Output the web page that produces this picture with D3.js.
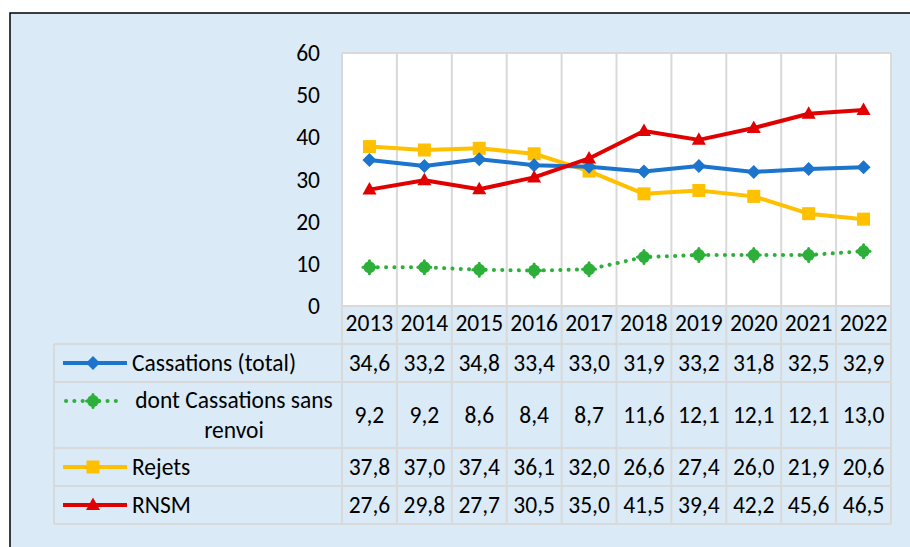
<!DOCTYPE html>
<html><head><meta charset="utf-8">
<script src="https://cdn.jsdelivr.net/npm/d3@7"></script>
<style>
html,body{margin:0;padding:0;background:#fff;}
svg{display:block;}
text{font-family:Carlito,Lato,"Open Sans",sans-serif;fill:#000;}
</style></head>
<body>
<script>
const years = ["2013","2014","2015","2016","2017","2018","2019","2020","2021","2022"];
const cassTotal = [34.6,33.2,34.8,33.4,33.0,31.9,33.2,31.8,32.5,32.9];
const cassSansRenvoi = [9.2,9.2,8.6,8.4,8.7,11.6,12.1,12.1,12.1,13.0];
const rejets = [37.8,37.0,37.4,36.1,32.0,26.6,27.4,26.0,21.9,20.6];
const rnsm = [27.6,29.8,27.7,30.5,35.0,41.5,39.4,42.2,45.6,46.5];
const yTicks = [0,10,20,30,40,50,60];
const seriesNames = ["Cassations (total)","dont Cassations sans renvoi","Rejets","RNSM"];

const W = 910, H = 547;
const svg = d3.select("body").append("svg").attr("width",W).attr("height",H);

const BG = "#DAEBF7", GRID = "#D9D9D9";
const FS = 23.5;
svg.append("rect").attr("x",10).attr("y",13).attr("width",W).attr("height",H)
  .attr("fill",BG).attr("stroke","#000").attr("stroke-width",1.5);

const plot = {l:342, r:891, t:53, b:306};
const x = d3.scaleBand().domain(years).range([plot.l, plot.r]);
const y = d3.scaleLinear().domain([0,60]).range([plot.b, plot.t]);
const fmt = d3.formatLocale({decimal:",",thousands:" ",grouping:[3],currency:["","€"]}).format(".1f");

svg.append("rect").attr("x",plot.l).attr("y",plot.t).attr("width",plot.r-plot.l).attr("height",plot.b-plot.t)
  .attr("fill","#fff");

const rows = [
  {top:344, bot:382},
  {top:382, bot:448},
  {top:448, bot:486},
  {top:486, bot:524}
];
const tbl = {l:54, r:891, headTop:306, bot:524};

const gridG = svg.append("g").attr("stroke",GRID).attr("stroke-width",2).attr("fill","none");
years.forEach((yr,i)=>{
  const xx = x(yr);
  if(i>0) gridG.append("line").attr("x1",xx).attr("x2",xx).attr("y1",plot.t).attr("y2",tbl.bot);
});
gridG.append("line").attr("x1",plot.l).attr("x2",plot.l).attr("y1",plot.t).attr("y2",tbl.bot);
gridG.append("line").attr("x1",plot.r).attr("x2",plot.r).attr("y1",plot.t).attr("y2",tbl.bot);
gridG.append("line").attr("x1",plot.l).attr("x2",plot.r).attr("y1",plot.t).attr("y2",plot.t);
gridG.append("line").attr("x1",plot.l).attr("x2",plot.r).attr("y1",plot.b).attr("y2",plot.b);
rows.forEach(r=>{
  gridG.append("line").attr("x1",tbl.l).attr("x2",tbl.r).attr("y1",r.top).attr("y2",r.top);
});
gridG.append("line").attr("x1",tbl.l).attr("x2",tbl.r).attr("y1",tbl.bot).attr("y2",tbl.bot);
gridG.append("line").attr("x1",tbl.l).attr("x2",tbl.l).attr("y1",rows[0].top).attr("y2",tbl.bot);

const yAxis = d3.axisLeft(y).tickValues(yTicks).tickSize(0).tickPadding(22).tickFormat(d3.format("d"));
const yg = svg.append("g").attr("transform",`translate(${plot.l},0)`).call(yAxis);
yg.select(".domain").remove();
yg.selectAll("text").attr("font-size",FS).attr("font-family","Carlito,Lato,sans-serif").attr("fill","#000");

const xAxis = d3.axisBottom(x).tickSize(0).tickPadding(8);
const xg = svg.append("g").attr("transform",`translate(0,${plot.b})`).call(xAxis);
xg.select(".domain").remove();
xg.selectAll("text").attr("font-size",FS).attr("font-family","Carlito,Lato,sans-serif").attr("fill","#000");

const series = [
  {name:seriesNames[0], values:cassTotal, color:"#1C74CC", marker:"diamond", dash:null, width:4},
  {name:seriesNames[1], values:cassSansRenvoi, color:"#2DB03A", marker:"dot", dash:"0.1 8.2", width:4},
  {name:seriesNames[2], values:rejets, color:"#FFC000", marker:"square", dash:null, width:4},
  {name:seriesNames[3], values:rnsm, color:"#E00000", marker:"triangle", dash:null, width:4}
];

function drawMarker(g, type, cx, cy, color){
  if(type==="diamond"){
    g.append("path").attr("d",`M${cx},${cy-7}L${cx+7},${cy}L${cx},${cy+7}L${cx-7},${cy}Z`).attr("fill",color);
  } else if(type==="square"){
    g.append("rect").attr("x",cx-6.5).attr("y",cy-6.5).attr("width",13).attr("height",13).attr("fill",color);
  } else if(type==="triangle"){
    g.append("path").attr("d",`M${cx},${cy-7.5}L${cx+7},${cy+5}L${cx-7},${cy+5}Z`).attr("fill",color);
  } else {
    g.append("circle").attr("cx",cx).attr("cy",cy).attr("r",6).attr("fill",color);
    g.append("path").attr("d",`M${cx-6.5},${cy}H${cx+6.5}M${cx},${cy-6.5}V${cy+6.5}`)
      .attr("stroke",color).attr("stroke-width",3).attr("stroke-linecap","round");
  }
}

const line = d3.line().x((d,i)=>x(years[i])+x.bandwidth()/2).y(d=>y(d));
const order = [1,2,0,3];
order.forEach(k=>{
  const s = series[k];
  const g = svg.append("g");
  const p = g.append("path").attr("d",line(s.values)).attr("fill","none").attr("stroke",s.color)
    .attr("stroke-width",s.width).attr("stroke-linejoin","round");
  if(s.dash){ p.attr("stroke-dasharray",s.dash).attr("stroke-linecap","round"); }
  s.values.forEach((v,i)=>drawMarker(g, s.marker, x(years[i])+x.bandwidth()/2, y(v), s.color));
});

series.forEach((s,k)=>{
  const r = rows[k];
  const mid = (r.top+r.bot)/2;
  const g = svg.append("g");
  const ky = k===1 ? 401 : mid;
  const kp = g.append("line").attr("x1",63).attr("x2",127).attr("y1",ky).attr("y2",ky)
    .attr("stroke",s.color).attr("stroke-width",s.width);
  if(s.dash){ kp.attr("stroke-dasharray",s.dash).attr("stroke-linecap","round").attr("x2",120).attr("x1",66); }
  drawMarker(g, s.marker, 93, ky, s.color);
  if(k===1){
    g.append("text").attr("x",234).attr("y",408).attr("text-anchor","middle").attr("font-size",FS).text("dont Cassations sans");
    g.append("text").attr("x",234).attr("y",438).attr("text-anchor","middle").attr("font-size",FS).text("renvoi");
  } else {
    g.append("text").attr("x",132).attr("y",mid+8).attr("font-size",FS).text(s.name);
  }
  s.values.forEach((v,i)=>{
    g.append("text").attr("x",x(years[i])+x.bandwidth()/2).attr("y",mid+8).attr("text-anchor","middle")
      .attr("font-size",FS).text(fmt(v));
  });
});
</script>
</body></html>
